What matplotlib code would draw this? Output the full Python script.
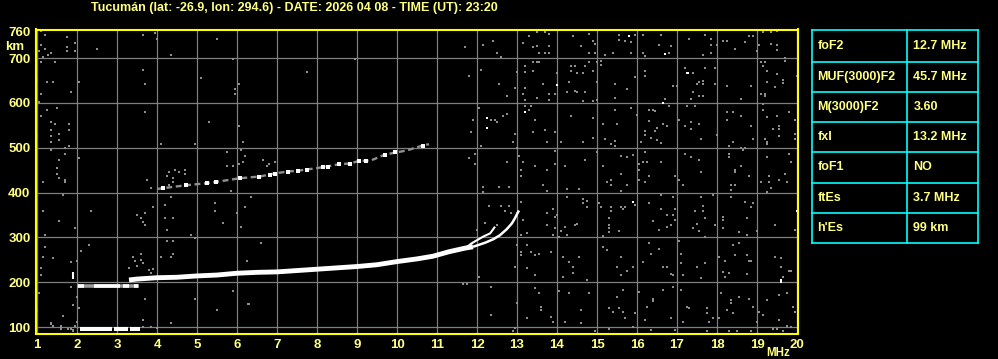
import matplotlib
matplotlib.use('Agg')
import matplotlib.pyplot as plt
from matplotlib import font_manager
from matplotlib.lines import Line2D

# ---------------- data ----------------
title = "Tucumán (lat: -26.9, lon: 294.6) - DATE: 2026 04 08 - TIME (UT): 23:20"
freq_ticks = list(range(1, 21))
height_ticks = [100, 200, 300, 400, 500, 600, 700, 760]
grid_heights = [100, 200, 300, 400, 500, 600, 700]

param_names = ["foF2", "MUF(3000)F2", "M(3000)F2", "fxI", "foF1", "ftEs", "h'Es"]
param_values = ["12.7 MHz", "45.7 MHz", "3.60", "13.2 MHz", "NO", "3.7 MHz", "99 km"]

# sporadic E trace (h'Es ~ 99 km) : segments (start MHz, end MHz)
es1_start = [2.08, 2.93, 3.33]
es1_end = [2.87, 3.28, 3.58]
es1_height = 96
# second-hop Es trace (~192 km)
es2_base = [2.0, 3.55]
es2_start = [2.03, 2.42, 3.14, 3.42]
es2_end = [2.18, 3.08, 3.30, 3.53]
es2_height = 192
spike_freq = [1.89, 1.89]
spike_height = [207, 222]

# main F trace (thick part)
f_main_freq = [3.3, 3.5, 4.0, 4.5, 5.0, 5.5, 6.0, 6.5, 7.0, 7.5, 8.0, 8.5, 9.0, 9.5,
               10.0, 10.5, 10.9, 11.3, 11.7, 11.9]
f_main_height = [205, 207, 210, 211, 214, 216, 220, 222, 223, 226, 229, 232, 235, 239,
                 246, 252, 258, 268, 276, 279]
# outer branch (to fxI region)
f_outer_freq = [11.9, 12.2, 12.41, 12.575, 12.74, 12.87, 12.95, 13.01, 13.05]
f_outer_height = [279, 288, 296, 305, 318, 331, 343, 354, 360]
# inner branch
f_inner_freq = [11.75, 11.87, 12.16, 12.33, 12.45]
f_inner_height = [279, 287, 302, 309, 324]
# second hop F trace
f2_freq = [4.0, 4.16, 4.7, 5.24, 5.49, 6.07, 6.58, 6.95, 7.28, 7.53, 7.95, 8.24, 8.53,
           8.83, 9.06, 9.33, 9.7, 9.95, 10.24, 10.64, 10.8]
f2_height = [408, 410, 416, 421, 424, 432, 436, 443, 447, 449, 454, 458, 463, 465, 471,
             471, 485, 489, 494, 505, 508]
f2w_freq = [4.16, 4.73, 5.24, 5.48, 6.07, 6.56, 6.82, 6.96, 7.28, 7.53, 7.76, 8.14,
            8.27, 8.56, 8.83, 9.06, 9.23, 9.7, 9.95, 10.64]
f2w_height = [410, 417, 421, 424, 432, 435, 440, 442, 447, 449, 451, 458, 458, 464, 464,
              471, 471, 485, 490, 505]

# bright isolated echoes
white_f = [15.79, 16.69, 13.99, 16.64, 17.24, 17.28, 15.89, 19.99, 19.59, 19.59,
           12.25, 12.25, 13.2]
white_h = [749, 709, 640, 600, 668, 668, 378, 359, 205, 200, 566, 545, 579]

# scattered noise echoes (MHz, km)
noise_f = [
    1.10, 1.20, 1.75, 1.10, 1.95, 1.20, 1.75, 1.05, 1.75, 1.95, 1.35, 1.28, 1.15, 1.10,
    1.45, 2.50, 3.65, 3.95, 4.00, 4.35, 5.50, 5.90, 3.65, 3.70, 5.10, 6.05, 5.95, 5.95,
    1.25, 1.40, 2.05, 1.85, 1.10, 1.05, 1.00, 1.50, 1.25, 1.10, 3.70, 5.30, 6.05, 1.35,
    1.45, 1.80, 1.35, 1.80, 1.35, 1.55, 1.55, 1.35, 1.00, 1.80, 1.70, 1.35, 4.10, 4.95,
    6.15, 1.70, 2.05, 1.55, 1.50, 1.50, 1.55, 5.75, 6.10, 6.20, 6.05, 5.75, 5.90, 6.15,
    6.65, 6.95, 6.80, 6.75, 4.30, 4.45, 4.55, 4.70, 4.70, 4.25, 4.40,
    # 7-13 MHz upper
    8.95, 7.75, 11.70, 12.15, 12.40, 12.50, 12.60, 13.15, 13.30, 11.80, 12.10, 12.55,
    12.75, 12.95, 13.00, 13.20, 13.20, 13.20, 13.15, 13.20, 13.20, 13.30, 12.05, 11.90,
    12.35, 12.45, 12.50, 12.65, 12.75, 11.85, 12.95, 12.90, 12.10, 13.00, 13.05, 11.95,
    11.80, 11.95, 12.75, 13.15, 13.10, 13.10,
    # 13-20 MHz upper
    13.49, 13.69, 13.79, 13.49, 13.39, 13.79, 13.54, 13.69, 13.79, 14.39, 14.59, 14.79,
    14.89, 14.94, 14.79, 14.94, 15.19, 15.39, 15.54, 15.54, 15.69, 15.84, 15.94, 15.84,
    16.14, 16.14, 16.19, 16.54, 16.59, 16.84, 16.79, 17.29, 17.69, 17.84, 17.84, 17.99,
    17.64, 17.84, 18.14, 18.24, 18.44, 18.69, 18.79, 18.89, 18.99, 19.04, 19.14, 19.34,
    19.49, 19.34, 19.49, 19.49, 19.69,
    13.39, 13.39, 13.49, 13.54, 13.99, 13.64, 13.49, 13.79, 13.79, 13.94, 14.24, 14.34,
    14.34, 14.49, 14.44, 14.64, 14.69, 14.79, 14.89, 14.99, 14.99, 15.09, 15.09, 14.99,
    14.89, 14.69, 14.49, 14.44, 14.29, 14.64, 15.44, 15.44, 15.74, 15.94, 16.19, 16.19,
    16.89, 16.99, 17.19, 17.39, 17.69, 17.94, 17.64, 17.49, 17.54, 17.64, 17.39, 17.54,
    17.64, 17.34, 16.69, 17.94, 18.24, 18.59, 18.84, 19.09, 19.19, 19.14, 19.24, 19.49,
    19.64, 19.64, 19.24, 19.09, 19.19, 19.19, 19.44, 19.69, 19.99,
    13.34, 13.44, 13.69, 13.39, 13.94, 14.34, 14.89, 15.14, 15.44, 15.49, 15.19, 15.34,
    15.44, 15.44, 14.89, 14.64, 14.09, 13.74, 15.84, 15.99, 16.29, 16.39, 16.44, 16.29,
    16.49, 16.44, 16.19, 16.19, 16.34, 16.49, 16.64, 16.74, 16.59, 16.09, 16.79, 17.04,
    17.24, 17.44, 17.34, 17.34, 17.19, 17.59, 17.54, 17.99, 18.24, 18.24, 18.39, 18.59,
    18.84, 18.89, 18.39, 19.14, 19.14, 19.24, 19.49, 19.79, 19.54, 19.39, 19.54, 19.54,
    19.24, 19.24, 19.94, 19.94, 19.94, 19.19,
    13.94, 13.94, 13.44, 13.74, 14.19, 14.69, 14.99, 15.14, 15.59, 15.74, 15.89, 15.59,
    16.04, 16.04, 16.14, 16.24, 16.19, 16.59, 16.29, 17.19, 17.34, 17.54, 17.59, 16.94,
    18.29, 18.29, 18.64, 18.59, 18.44, 18.44, 18.79, 19.24, 19.79, 19.84, 19.69, 19.29,
    18.29, 18.59, 18.69,
    # 13-20 MHz lower
    13.64, 13.74, 14.24, 14.54, 14.24, 14.64, 14.74, 14.64, 14.74, 13.89, 13.74, 13.94,
    13.99, 13.74, 13.94, 13.89, 14.09, 14.19, 14.44, 14.49, 14.24, 14.04, 15.24, 15.34,
    15.34, 15.59, 15.74, 16.04, 16.19, 15.04, 15.09, 15.34, 15.34, 15.59, 15.69, 15.64,
    15.29, 15.29, 15.29, 15.29, 15.14, 15.54, 15.94, 16.29, 16.59, 16.89, 16.59, 16.74,
    16.94, 16.89, 16.94, 16.39, 16.54, 16.74, 16.84, 17.04, 17.14, 17.44, 17.64, 17.64,
    17.69, 17.39, 17.49, 17.54, 17.94, 17.69, 17.89, 17.59, 18.14, 18.14, 18.14, 18.34,
    18.34, 18.34, 18.44, 18.69, 18.84, 18.89, 18.74, 18.54, 18.74, 18.99, 19.09, 19.29,
    19.34, 19.24, 19.54, 19.74, 19.44, 19.94,
    13.34, 13.44, 13.44, 13.54, 13.84, 14.14, 14.29, 14.39, 14.39, 14.54, 14.14, 14.74,
    15.14, 15.24, 15.49, 15.59, 15.74, 15.59, 15.89, 16.14, 16.29, 16.34, 16.64, 16.74,
    16.54, 16.84, 16.89, 17.04, 17.09, 17.09, 17.14, 17.49, 17.69, 17.59, 18.04, 18.19,
    18.39, 18.44, 18.54, 18.74, 18.79, 18.84, 18.74, 18.29, 18.19, 18.14, 19.44, 19.59,
    19.59, 19.79, 19.84, 19.64,
    13.44, 13.54, 13.59, 13.59, 13.84, 13.89, 14.04, 14.19, 14.29, 14.59, 14.79, 14.59,
    15.29, 15.39, 15.49, 15.64, 15.54, 15.64, 15.69, 15.94, 16.04, 16.24, 16.19, 16.39,
    16.39, 16.64, 16.84, 16.89, 17.09, 17.14, 17.24, 17.29, 17.74, 17.74, 17.79, 17.89,
    18.04, 18.09, 18.24, 18.34, 18.34, 18.39, 18.54, 18.79, 18.89, 19.04, 19.14, 19.24,
    18.99, 19.54, 19.54, 19.74, 19.89, 19.94, 19.74, 19.39, 19.49,
    14.94, 15.29, 15.89, 16.34, 16.94, 17.74, 18.29, 18.49, 18.84, 19.64, 19.84,
    # 1-7 MHz lower
    1.14, 1.54, 1.69, 1.69, 3.74, 3.84, 4.29, 4.39, 4.39, 1.64, 1.14, 1.54, 1.94, 2.34,
    1.19, 1.19, 1.14, 1.39, 1.09, 1.09, 1.84, 1.99, 2.09, 2.29, 3.49, 3.69, 3.59, 3.64,
    3.69, 3.89, 4.19, 4.19, 4.39, 4.24, 4.34, 4.84, 4.94, 5.44, 5.44, 5.64, 5.84, 5.99,
    6.09, 6.19, 6.34, 6.59, 6.24, 4.24, 4.39, 4.39, 4.09, 4.34, 3.39, 3.44, 3.59, 3.59,
    3.64, 3.29, 3.49, 3.79, 3.89, 3.84, 1.04, 0.99, 1.84, 1.99, 1.89, 2.04, 1.64, 1.34,
    1.99, 1.94, 3.64, 3.64, 4.34, 5.49, 5.89, 6.29, 3.69, 4.94, 3.84, 1.59, 1.59, 1.84,
    1.89, 1.34, 1.39, 1.59, 1.78, 1.89, 3.99, 6.28, 0.99,
    # 11-13 MHz lower
    12.34, 12.99, 12.95, 12.91, 13.24, 12.14, 12.14, 12.54, 12.79, 12.29, 12.59, 12.79,
    12.69, 12.84, 13.09, 12.19, 12.49, 13.14, 13.24, 13.09, 13.24, 11.99, 12.04, 12.99,
    12.95, 13.09, 13.09, 13.24, 11.64, 11.74, 12.34,
]
noise_h = [
    761, 752, 747, 729, 734, 720, 725, 716, 716, 716, 711, 707, 703, 691,
    691, 720, 752, 756, 743, 707, 743, 698, 674, 642, 656, 642, 631, 620,
    647, 647, 647, 625, 620, 602, 651, 589, 584, 571, 580, 558, 549, 558,
    553, 553, 540, 540, 526, 531, 517, 513, 526, 504, 500, 495, 508, 508,
    513, 486, 477, 473, 455, 442, 433, 491, 495, 482, 464, 459, 459, 468,
    473, 468, 464, 459, 446, 450, 446, 450, 442, 437, 433,
    698, 669, 725, 729, 738, 711, 703, 734, 750, 660, 674, 642,
    616, 634, 669, 683, 669, 634, 620, 607, 593, 584, 589, 562,
    562, 562, 558, 571, 575, 535, 531, 513, 504, 500, 482, 486,
    477, 464, 468, 468, 450, 437,
    758, 759, 754, 728, 724, 728, 711, 711, 711, 750, 728, 754,
    739, 732, 711, 711, 708, 711, 752, 741, 739, 735, 752, 711,
    752, 711, 705, 730, 752, 728, 711, 743, 752, 743, 730, 730,
    708, 711, 739, 739, 720, 735, 749, 749, 716, 730, 759, 759,
    761, 732, 730, 719, 700,
    691, 672, 691, 692, 668, 642, 612, 620, 607, 620, 624, 672,
    683, 668, 683, 668, 683, 691, 672, 691, 646, 694, 685, 607,
    605, 625, 624, 627, 646, 605, 642, 612, 631, 657, 672, 661,
    639, 639, 679, 668, 679, 679, 650, 642, 647, 642, 624, 616,
    616, 609, 609, 642, 639, 609, 639, 691, 691, 683, 672, 665,
    652, 644, 647, 620, 620, 616, 635, 693, 661,
    594, 563, 540, 536, 536, 572, 566, 553, 585, 553, 519, 508,
    516, 505, 522, 514, 514, 514, 589, 574, 585, 585, 583, 559,
    544, 538, 538, 528, 522, 518, 554, 548, 511, 514, 594, 563,
    594, 594, 557, 542, 549, 519, 553, 529, 563, 579, 579, 570,
    549, 519, 514, 598, 585, 568, 570, 580, 548, 543, 542, 527,
    514, 508, 563, 531, 519, 519,
    493, 464, 460, 451, 460, 473, 491, 460, 482, 479, 484, 442,
    464, 451, 469, 469, 491, 469, 438, 486, 479, 473, 447, 438,
    486, 479, 496, 460, 451, 447, 438, 479, 486, 469, 442, 438,
    505, 499, 499,
    417, 404, 408, 408, 391, 386, 381, 377, 368, 363, 355, 346,
    350, 328, 320, 305, 314, 324, 328, 331, 305, 301, 423, 428,
    418, 404, 417, 428, 423, 377, 368, 368, 359, 368, 368, 363,
    343, 328, 320, 313, 302, 314, 372, 377, 395, 390, 363, 350,
    363, 350, 339, 337, 317, 324, 328, 428, 418, 359, 369, 359,
    343, 320, 329, 314, 328, 301, 395, 390, 346, 339, 320, 417,
    406, 390, 417, 378, 368, 377, 343, 311, 305, 314, 423, 423,
    410, 402, 428, 423, 328, 317,
    268, 261, 216, 264, 268, 257, 246, 235, 220, 257, 212, 205,
    279, 272, 235, 257, 224, 216, 235, 246, 287, 264, 235, 235,
    274, 218, 216, 291, 264, 242, 216, 235, 242, 209, 257, 247,
    283, 261, 287, 261, 247, 247, 218, 220, 212, 222, 257, 253,
    235, 224, 224, 212,
    186, 177, 145, 138, 123, 112, 180, 112, 177, 138, 177, 108,
    143, 134, 168, 183, 143, 134, 119, 131, 179, 145, 116, 163,
    158, 183, 119, 190, 183, 112, 145, 142, 142, 131, 112, 119,
    119, 177, 138, 160, 153, 131, 168, 163, 145, 134, 127, 160,
    112, 171, 116, 175, 145, 134, 103, 96, 96,
    90, 96, 99, 93, 94, 90, 91, 91, 90, 91, 99,
    423, 432, 428, 423, 428, 410, 418, 433, 423, 395, 359, 337, 322, 359,
    305, 279, 257, 253, 231, 216, 244, 247, 270, 283, 350, 354, 343, 335,
    328, 368, 372, 343, 344, 317, 390, 305, 298, 377, 359, 332, 404, 354,
    324, 368, 390, 288, 247, 292, 292, 264, 257, 257, 257, 247, 264, 250,
    242, 232, 237, 227, 229, 220, 177, 136, 190, 168, 148, 143, 125, 108,
    112, 103, 116, 99, 108, 138, 180, 152, 163, 163, 101, 101, 96, 96,
    90, 107, 102, 102, 96, 93, 98, 151, 138,
    127, 153, 97, 90, 119, 413, 402, 413, 413, 369, 369, 369,
    360, 355, 380, 333, 328, 339, 309, 305, 283, 317, 212, 283,
    235, 268, 261, 231, 197, 197, 190,
]

# ---------------- figure ----------------
W, H = 998, 359
BG = 'black'
YEL_TXT = '#ffff80'
YEL_LINE = '#ffff00'
GRID = '#7f7f7f'
NOISE = '#8f8f8f'
CYAN = '#00ffff'

names = {f.name for f in font_manager.fontManager.ttflist}
FONT = 'Liberation Sans Narrow' if 'Liberation Sans Narrow' in names else 'Liberation Sans'

fig = plt.figure(figsize=(W / 100, H / 100), dpi=100, facecolor=BG)


def fx(px):
    return px / W


def fy(py):
    return 1 - py / H


ax = fig.add_axes([fx(36), fy(333.5), fx(798) - fx(36), fy(29.5) - fy(333.5)])
ax.set_facecolor(BG)
ax.set_xlim(0.975, 20.025)
ax.set_ylim(85.5, 764)

for f in freq_ticks:
    ax.axvline(f, color=GRID, lw=0.9, zorder=1)
for h in grid_heights:
    ax.axhline(h, color=GRID, lw=0.9, zorder=1)

# noise
ax.plot(noise_f, noise_h, 's', ms=1.9, mew=0, color=NOISE, zorder=2)
ax.plot(white_f, white_h, 's', ms=1.9, mew=0, color='white', zorder=3)

# Es traces
for a, b in zip(es1_start, es1_end):
    ax.plot([a, b], [es1_height, es1_height], color='white', lw=2.9,
            solid_capstyle='butt', zorder=4)
ax.plot(es2_base, [es2_height, es2_height], color='#9a9a9a', lw=2.6,
        solid_capstyle='butt', zorder=3)
for a, b in zip(es2_start, es2_end):
    ax.plot([a, b], [es2_height, es2_height], color='white', lw=2.6,
            solid_capstyle='butt', zorder=4)
ax.plot(spike_freq, spike_height, color='white', lw=1.5, solid_capstyle='butt', zorder=4)

# F traces
ax.plot(f_main_freq, f_main_height, color='white', lw=3.5, solid_capstyle='butt',
        solid_joinstyle='round', zorder=4)
ax.plot(f_outer_freq, f_outer_height, color='white', lw=1.8, solid_capstyle='butt', zorder=4)
ax.plot(f_inner_freq, f_inner_height, color='white', lw=1.5, solid_capstyle='butt', zorder=4)
ax.plot(f2_freq, f2_height, color='#8f8f8f', lw=1.7, ls=(0, (2.5, 1.5)), zorder=3)
ax.plot(f2w_freq, f2w_height, 's', ms=2.3, mew=0, color='white', zorder=4)

for s in ax.spines.values():
    s.set_color(YEL_LINE)
    s.set_linewidth(1.5)
    s.set_zorder(6)

ax.set_xticks(freq_ticks)
ax.set_xticklabels([str(v) for v in freq_ticks])
ax.set_yticks(height_ticks)
ax.set_yticklabels([str(v) for v in height_ticks])
ax.tick_params(length=0, colors=YEL_TXT, labelsize=9.5, pad=4)
for lab in ax.get_xticklabels() + ax.get_yticklabels():
    lab.set_fontfamily(FONT)
    lab.set_fontweight('bold')
    lab.set_color(YEL_TXT)

# labels / title
tfont = dict(family=FONT, weight='bold', color=YEL_TXT)
t_title = fig.text(fx(91), fy(10.8), title, ha='left', va='baseline', fontsize=9, **tfont)
fig.text(fx(5), fy(49.5), 'km', ha='left', va='baseline', fontsize=9.5, **tfont)
t_mhz = fig.text(fx(766), fy(356), 'MHz', ha='left', va='baseline', fontsize=9, **tfont)

# parameter table
x0, x1, x2 = 812, 907.3, 977.7
rows = [30, 61.7, 91.7, 121.7, 151.7, 182.7, 212.7, 242.7]
for yy in rows:
    fig.add_artist(Line2D([fx(x0), fx(x2)], [fy(yy), fy(yy)], color=CYAN, lw=1.2))
for xx in (x0, x1, x2):
    fig.add_artist(Line2D([fx(xx), fx(xx)], [fy(rows[0]), fy(rows[-1])], color=CYAN, lw=1.2))
for i, (n, v) in enumerate(zip(param_names, param_values)):
    yc = (rows[i] + rows[i + 1]) / 2
    fig.text(fx(x0 + 5.5), fy(yc), n, ha='left', va='center', fontsize=9, **tfont)
    fig.text(fx(x1 + 6), fy(yc), v, ha='left', va='center', fontsize=9, **tfont)

# fit title / MHz widths to the reference
fig.canvas.draw()
r = fig.canvas.get_renderer()
bb = t_title.get_window_extent(r)
t_title.set_fontsize(9 * 407 / bb.width)
bb = t_mhz.get_window_extent(r)
t_mhz.set_fontsize(9 * 24 / bb.width)

fig.savefig('out.png', dpi=100, facecolor=BG)
